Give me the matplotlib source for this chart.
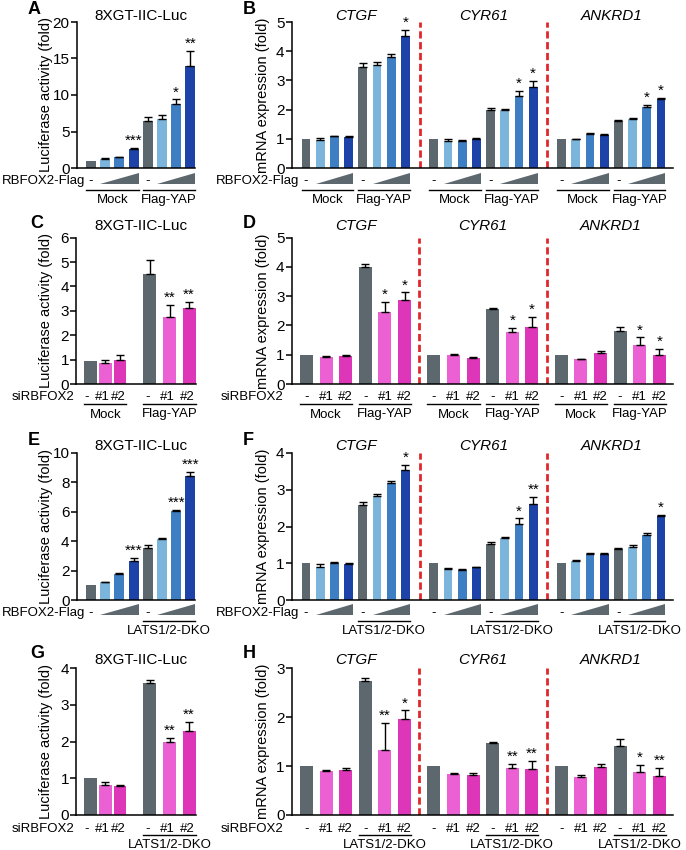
import numpy as np
import matplotlib
matplotlib.use('Agg')
import matplotlib.pyplot as plt
from matplotlib.transforms import blended_transform_factory
from matplotlib.patches import Polygon
from matplotlib.lines import Line2D

plt.rcParams['font.family'] = ['Liberation Sans', 'DejaVu Sans']
plt.rcParams['axes.linewidth'] = 1.1

# ---------------- data ----------------
GENES = ['CTGF', 'CYR61', 'ANKRD1']
LUC_TITLE = '8XGT-IIC-Luc'
LUC_YLABEL = 'Luciferase activity (fold)'
MRNA_YLABEL = 'mRNA expression (fold)'
RBFOX_LABEL = 'RBFOX2-Flag'
SI_LABEL = 'siRBFOX2'
SI_TICKS = ['-', '#1', '#2', '-', '#1', '#2']
YAP_GROUPS = ['Mock', 'Flag-YAP']
DKO_GROUP = 'LATS1/2-DKO'

A_vals = [1.0, 1.3, 1.5, 2.6, 6.4, 6.7, 8.8, 14.0]
A_err = [0, 0.05, 0.05, 0.2, 0.6, 0.6, 0.6, 2.0]
A_sig = ['', '', '', '***', '', '', '*', '**']

B_ctgf = [1.0, 0.95, 1.08, 1.05, 3.47, 3.53, 3.8, 4.52]
B_ctgf_err = [0, 0.07, 0.02, 0.03, 0.12, 0.1, 0.1, 0.2]
B_ctgf_sig = ['', '', '', '', '', '', '', '*']
B_cyr61 = [1.0, 0.93, 0.92, 1.0, 1.97, 1.97, 2.45, 2.77]
B_cyr61_err = [0, 0.05, 0.03, 0.03, 0.08, 0.05, 0.2, 0.22]
B_cyr61_sig = ['', '', '', '', '', '', '*', '*']
B_ankrd1 = [1.0, 0.98, 1.17, 1.14, 1.6, 1.67, 2.1, 2.38]
B_ankrd1_err = [0, 0.03, 0.03, 0.03, 0.05, 0.05, 0.06, 0.03]
B_ankrd1_sig = ['', '', '', '', '', '', '*', '*']

C_vals = [0.95, 0.85, 0.98, 4.5, 2.73, 3.13]
C_err = [0, 0.12, 0.22, 0.57, 0.5, 0.25]
C_sig = ['', '', '', '', '**', '**']

D_ctgf = [1.0, 0.92, 0.94, 3.99, 2.47, 2.87]
D_ctgf_err = [0, 0.04, 0.05, 0.1, 0.33, 0.26]
D_ctgf_sig = ['', '', '', '', '*', '*']
D_cyr61 = [1.0, 1.0, 0.89, 2.58, 1.78, 1.95]
D_cyr61_err = [0, 0.02, 0.03, 0.03, 0.14, 0.35]
D_cyr61_sig = ['', '', '', '', '*', '*']
D_ankrd1 = [1.0, 0.85, 1.07, 1.8, 1.33, 0.99]
D_ankrd1_err = [0, 0.02, 0.05, 0.16, 0.26, 0.22]
D_ankrd1_sig = ['', '', '', '', '*', '*']

E_vals = [1.0, 1.2, 1.75, 2.68, 3.52, 4.15, 6.05, 8.42]
E_err = [0, 0.05, 0.1, 0.2, 0.2, 0.05, 0.08, 0.3]
E_sig = ['', '', '', '***', '', '', '***', '***']

F_ctgf = [1.0, 0.91, 1.02, 0.97, 2.58, 2.82, 3.19, 3.53]
F_ctgf_err = [0, 0.06, 0.02, 0.04, 0.08, 0.07, 0.06, 0.15]
F_ctgf_sig = ['', '', '', '', '', '', '', '*']
F_cyr61 = [1.0, 0.83, 0.81, 0.89, 1.53, 1.68, 2.07, 2.6]
F_cyr61_err = [0, 0.03, 0.02, 0.02, 0.06, 0.04, 0.15, 0.2]
F_cyr61_sig = ['', '', '', '', '', '', '*', '**']
F_ankrd1 = [1.0, 1.07, 1.25, 1.24, 1.38, 1.45, 1.76, 2.29]
F_ankrd1_err = [0, 0.02, 0.04, 0.03, 0.04, 0.04, 0.05, 0.03]
F_ankrd1_sig = ['', '', '', '', '', '', '', '*']

G_vals = [1.0, 0.82, 0.78, 3.59, 1.98, 2.3]
G_err = [0, 0.08, 0.05, 0.09, 0.12, 0.23]
G_sig = ['', '', '', '', '**', '**']

H_ctgf = [1.0, 0.9, 0.92, 2.74, 1.33, 1.96]
H_ctgf_err = [0, 0.03, 0.05, 0.06, 0.56, 0.18]
H_ctgf_sig = ['', '', '', '', '**', '*']
H_cyr61 = [1.0, 0.84, 0.82, 1.47, 0.96, 0.94]
H_cyr61_err = [0, 0.02, 0.03, 0.03, 0.08, 0.17]
H_cyr61_sig = ['', '', '', '', '**', '**']
H_ankrd1 = [1.0, 0.78, 0.99, 1.42, 0.87, 0.8]
H_ankrd1_err = [0, 0.03, 0.06, 0.13, 0.16, 0.17]
H_ankrd1_sig = ['', '', '', '', '*', '**']

# ---------------- style ----------------
GRAY = '#5d686e'
LB = '#7cb5dc'
MB = '#3e7ec2'
DB = '#1d43a9'
P1 = '#eb60d2'
P2 = '#de36b8'
RED = '#e0282c'
BLUE_COLORS = [GRAY, LB, MB, DB] * 2
PINK_COLORS = [GRAY, P1, P2] * 2
ANN = 9.5  # font size of the annotation rows under the axes

W, H = 686, 850
fig = plt.figure(figsize=(W / 100, H / 100), dpi=100)


def fy(y):
    return 1 - y / H


def add_ax(L, R, top, y0, cx0, u, ymax, step):
    ax = fig.add_axes([L / W, fy(y0), (R - L) / W, (y0 - top) / H])
    ax.set_xlim((L - cx0) / u, (R - cx0) / u)
    ax.set_ylim(0, ymax)
    ax.set_yticks(np.arange(0, ymax + 1e-9, step))
    ax.set_xticks([])
    for s in ['top', 'right']:
        ax.spines[s].set_visible(False)
    ax.tick_params(axis='y', direction='out', length=4, width=1.1, pad=1,
                   labelsize=11)
    ax.patch.set_alpha(0)
    return ax


def draw_bars(ax, xs, vals, errs, sigs, colors, width):
    ax.bar(xs, vals, width=width, color=colors, zorder=2, linewidth=0)
    for x, v, e, s in zip(xs, vals, errs, sigs):
        if e > 0:
            ax.errorbar([x], [v], yerr=[[0], [e]], fmt='none', ecolor='black',
                        elinewidth=1.0, capsize=2.6, capthick=1.0, zorder=3)
        if s:
            ax.annotate(s, (x, v + e), xytext=(0, 0), textcoords='offset points',
                        ha='center', va='bottom', fontsize=11,
                        annotation_clip=False)


def btr(ax):
    return blended_transform_factory(ax.transData, fig.transFigure)


def under_text(ax, x, y, s, size=ANN, style='normal'):
    return fig.text(x, fy(y), s, transform=btr(ax), ha='center', va='center',
                    fontsize=size, fontstyle=style)


def hline(ax, x0, x1, y):
    fig.add_artist(Line2D([x0, x1], [fy(y), fy(y)], transform=btr(ax),
                          color='black', lw=1.0))


def wedge(ax, x0, x1, ytop, ybot):
    fig.add_artist(Polygon([[x0, fy(ybot)], [x1, fy(ybot)], [x1, fy(ytop)]],
                           closed=True, transform=btr(ax), color=GRAY, lw=0))


def ftext(x, y, s, **kw):
    fig.text(x / W, fy(y), s, **kw)


def letter(x, y, s):
    ftext(x, y, s, fontsize=13, fontweight='bold', ha='left', va='center')


# ---------------- geometry ----------------
ROWS = [dict(top=22, y0=168, lab=181, wtop=173, wbot=184, line=190, grp=200, title=15.5, letter=10),
        dict(top=237.7, y0=384, lab=397, line=404, grp=414.5, title=226, letter=223),
        dict(top=453, y0=600, lab=613, wtop=604, wbot=615, line=621, grp=631, title=446.5, letter=440),
        dict(top=668.3, y0=815, lab=829.5, line=835, grp=844.5, title=660, letter=653)]

LEFT8 = dict(L=76.5, R=195, cx0=91, u=14.2, w=0.7)
LEFT6 = dict(L=76, R=196, cx0=90.5, u=14.75, w=0.88)
RIGHT8 = dict(L=291.5, R=673, cx0=306, u=14.2, w=0.62)
RIGHT6 = dict(L=291.5, R=673, cx0=306.5, u=19.6, w=0.66)

X8 = np.arange(8)
X6_left = np.array([0, 1, 2, 4.03, 5.36, 6.68])
SI_SHIFT_LEFT = np.array([-3.5, -2.5, -1.5, -2.0, -2.0, -1.5])  # px
X6 = np.arange(6)
OFF8 = [0, 9, 18]
OFF6 = [0, 6.5, 13]


def luc8(row, g, vals, errs, sigs, yaxis, dko, letter_s):
    r = ROWS[row]
    ax = add_ax(g['L'], g['R'], r['top'], r['y0'], g['cx0'], g['u'], *yaxis)
    draw_bars(ax, X8, vals, errs, sigs, BLUE_COLORS, g['w'])
    ftext(140.5, r['title'], LUC_TITLE, fontsize=11, ha='center', va='center')
    ftext(46, (r['top'] + r['y0']) / 2, LUC_YLABEL, fontsize=10.5, rotation=90,
          ha='center', va='center')
    ftext(g['cx0'] - 6, r['lab'], RBFOX_LABEL, fontsize=ANN, ha='right', va='center')
    w = g['w']
    for k in (0, 4):
        under_text(ax, X8[k], r['lab'], '-')
        wedge(ax, X8[k + 1] - w / 2, X8[k + 3] + w / 2, r['wtop'], r['wbot'])
    if dko:
        hline(ax, X8[4] - w / 2, X8[7] + w / 2, r['line'])
        under_text(ax, (X8[4] + X8[7]) / 2, r['grp'], DKO_GROUP)
    else:
        for k, name in zip((0, 4), YAP_GROUPS):
            hline(ax, X8[k] - w / 2, X8[k + 3] + w / 2, r['line'])
            under_text(ax, (X8[k] + X8[k + 3]) / 2, r['grp'], name)
    letter(28, r['letter'], letter_s)
    return ax


def mrna8(row, g, data, yaxis, dko, letter_s):
    r = ROWS[row]
    ax = add_ax(g['L'], g['R'], r['top'], r['y0'], g['cx0'], g['u'], *yaxis)
    w = g['w']
    for off, (vals, errs, sigs), gene in zip(OFF8, data, GENES):
        xs = X8 + off
        draw_bars(ax, xs, vals, errs, sigs, BLUE_COLORS, w)
        under_text(ax, (xs[0] + xs[7]) / 2, r['title'], gene, size=11, style='italic')
        for k in (0, 4):
            under_text(ax, xs[k], r['lab'], '-')
            wedge(ax, xs[k + 1] - w / 2, xs[k + 3] + w / 2, r['wtop'], r['wbot'])
        if dko:
            hline(ax, xs[4] - w / 2, xs[7] + w / 2, r['line'])
            under_text(ax, (xs[4] + xs[7]) / 2, r['grp'], DKO_GROUP)
        else:
            for k, name in zip((0, 4), YAP_GROUPS):
                hline(ax, xs[k] - w / 2, xs[k + 3] + w / 2, r['line'])
                under_text(ax, (xs[k] + xs[k + 3]) / 2, r['grp'], name)
    for sep in (OFF8[1] - 1, OFF8[2] - 1):
        ax.axvline(sep, color=RED, lw=2.0, ls=(0, (2.6, 1.3)), zorder=1)
    ftext(g['L'] - 28, (r['top'] + r['y0']) / 2, MRNA_YLABEL, fontsize=10.5,
          rotation=90, ha='center', va='center')
    ftext(g['cx0'] - 7, r['lab'], RBFOX_LABEL, fontsize=ANN, ha='right', va='center')
    letter(243, r['letter'], letter_s)
    return ax


def luc6(row, g, vals, errs, sigs, yaxis, dko, letter_s):
    r = ROWS[row]
    ax = add_ax(g['L'], g['R'], r['top'], r['y0'], g['cx0'], g['u'], *yaxis)
    xs = X6_left
    w = g['w']
    draw_bars(ax, xs, vals, errs, sigs, PINK_COLORS, w)
    ftext(140.5, r['title'], LUC_TITLE, fontsize=11, ha='center', va='center')
    ftext(46, (r['top'] + r['y0']) / 2, LUC_YLABEL, fontsize=10.5, rotation=90,
          ha='center', va='center')
    ftext(74, r['lab'], SI_LABEL, fontsize=ANN, ha='right', va='center')
    for x, s, dx in zip(xs, SI_TICKS, SI_SHIFT_LEFT):
        under_text(ax, x + dx / g['u'], r['lab'], s)
    if dko:
        hline(ax, xs[3] - w / 2, xs[5] + w / 2, r['line'])
        under_text(ax, (xs[3] + xs[5]) / 2, r['grp'], DKO_GROUP)
    else:
        for k, name in zip((0, 3), YAP_GROUPS):
            hline(ax, xs[k] - w / 2, xs[k + 2] + w / 2, r['line'])
            under_text(ax, (xs[k] + xs[k + 2]) / 2, r['grp'], name)
    letter(30, r['letter'], letter_s)
    return ax


def mrna6(row, g, data, yaxis, dko, letter_s):
    r = ROWS[row]
    ax = add_ax(g['L'], g['R'], r['top'], r['y0'], g['cx0'], g['u'], *yaxis)
    w = g['w']
    for off, (vals, errs, sigs), gene in zip(OFF6, data, GENES):
        xs = X6 + off
        draw_bars(ax, xs, vals, errs, sigs, PINK_COLORS, w)
        under_text(ax, (xs[0] + xs[5]) / 2, r['title'], gene, size=11, style='italic')
        for x, s in zip(xs, SI_TICKS):
            under_text(ax, x, r['lab'], s)
        if dko:
            hline(ax, xs[3] - w / 2, xs[5] + w / 2, r['line'])
            under_text(ax, (xs[3] + xs[5]) / 2, r['grp'], DKO_GROUP)
        else:
            for k, name in zip((0, 3), YAP_GROUPS):
                hline(ax, xs[k] - w / 2, xs[k + 2] + w / 2, r['line'])
                under_text(ax, (xs[k] + xs[k + 2]) / 2, r['grp'], name)
    for sep in (5.75, 12.25):
        ax.axvline(sep, color=RED, lw=2.0, ls=(0, (2.6, 1.3)), zorder=1)
    ftext(g['L'] - 28, (r['top'] + r['y0']) / 2, MRNA_YLABEL, fontsize=10.5,
          rotation=90, ha='center', va='center')
    ftext(283, r['lab'], SI_LABEL, fontsize=ANN, ha='right', va='center')
    letter(243, r['letter'], letter_s)
    return ax


luc8(0, LEFT8, A_vals, A_err, A_sig, (20, 5), False, 'A')
mrna8(0, RIGHT8, [(B_ctgf, B_ctgf_err, B_ctgf_sig),
                  (B_cyr61, B_cyr61_err, B_cyr61_sig),
                  (B_ankrd1, B_ankrd1_err, B_ankrd1_sig)], (5, 1), False, 'B')
luc6(1, LEFT6, C_vals, C_err, C_sig, (6, 1), False, 'C')
mrna6(1, RIGHT6, [(D_ctgf, D_ctgf_err, D_ctgf_sig),
                  (D_cyr61, D_cyr61_err, D_cyr61_sig),
                  (D_ankrd1, D_ankrd1_err, D_ankrd1_sig)], (5, 1), False, 'D')
luc8(2, LEFT8, E_vals, E_err, E_sig, (10, 2), True, 'E')
mrna8(2, RIGHT8, [(F_ctgf, F_ctgf_err, F_ctgf_sig),
                  (F_cyr61, F_cyr61_err, F_cyr61_sig),
                  (F_ankrd1, F_ankrd1_err, F_ankrd1_sig)], (4, 1), True, 'F')
luc6(3, LEFT6, G_vals, G_err, G_sig, (4, 1), True, 'G')
mrna6(3, RIGHT6, [(H_ctgf, H_ctgf_err, H_ctgf_sig),
                  (H_cyr61, H_cyr61_err, H_cyr61_sig),
                  (H_ankrd1, H_ankrd1_err, H_ankrd1_sig)], (3, 1), True, 'H')

fig.savefig('out.png', dpi=100)
